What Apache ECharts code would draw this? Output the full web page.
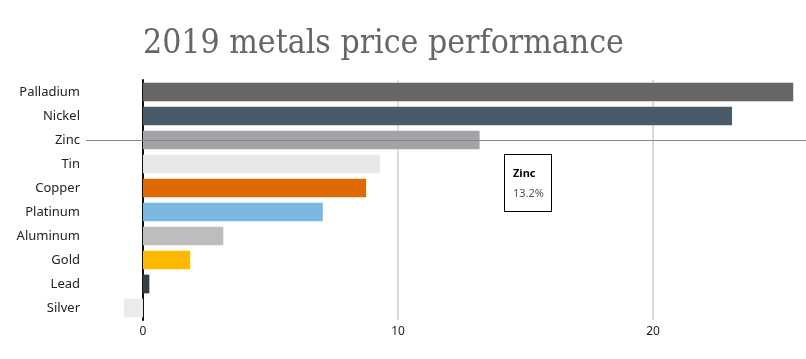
<!DOCTYPE html>
<html>
<head>
<meta charset="utf-8">
<script src="https://cdn.jsdelivr.net/npm/echarts@6/dist/echarts.min.js"></script>
<style>
html,body{margin:0;padding:0;background:#fff;}
#chart{width:806px;height:359px;}
</style>
</head>
<body>
<div id="chart"></div>
<script>
const titleText = '2019 metals price performance';
const categories = ['Palladium','Nickel','Zinc','Tin','Copper','Platinum','Aluminum','Gold','Lead','Silver'];
const values = [25.5, 23.1, 13.2, 9.3, 8.75, 7.05, 3.15, 1.85, 0.25, -0.75];
const barColors = ['#666666','#4a5a66','#939598','#e8e8e8','#dd6a00','#7ab8e0','#bdbdbd','#fdb900','#353f47','#ebebeb'];
const xTickValues = [0, 10, 20];
const tooltipIndex = 2;

const chart = echarts.init(document.getElementById('chart'), null, {renderer: 'canvas'});
chart.setOption({
  animation: false,
  backgroundColor: '#fff',
  title: {
    text: titleText,
    left: 138,
    top: 22,
    textStyle: {fontFamily: '"DejaVu Serif Condensed", "DejaVu Serif", serif', fontSize: 33.5, fontWeight: 'normal', color: '#666666'}
  },
  grid: {left: 86, right: 0, top: 80, bottom: 39, containLabel: false, outerBoundsMode: 'none'},
  tooltip: {
    trigger: 'axis',
    alwaysShowContent: true,
    transitionDuration: 0,
    position: [504, 154],
    backgroundColor: '#fff',
    borderColor: '#000',
    borderWidth: 1,
    padding: [8, 8, 8, 8],
    extraCssText: 'box-shadow:none;border-radius:0;',
    axisPointer: {type: 'line', lineStyle: {color: '#888', width: 1.2, type: 'solid'}},
    formatter: function (params) {
      const p = params[0];
      return '<div style="font-family:\'Noto Sans\',sans-serif;line-height:20px;width:30px;">'
        + '<div style="font-weight:bold;font-size:11px;color:#000;">' + p.name + '</div>'
        + '<div style="font-size:11px;color:#555;">' + p.value + '%</div></div>';
    }
  },
  xAxis: {
    type: 'value',
    min: -2.235,
    max: 26,
    axisLine: {show: false},
    axisTick: {show: false, customValues: xTickValues},
    axisLabel: {customValues: xTickValues, color: '#222', fontSize: 12, fontFamily: '"Noto Sans", sans-serif', margin: 6},
    splitLine: {show: true, lineStyle: {color: '#cccccc', width: 1.5}}
  },
  yAxis: {
    type: 'category',
    data: categories,
    inverse: true,
    axisLine: {show: true, onZero: true, lineStyle: {color: '#111', width: 2}},
    axisTick: {show: false},
    axisLabel: {color: '#222', fontSize: 13, fontFamily: '"Noto Sans", sans-serif', margin: 6}
  },
  series: [{
    type: 'bar',
    barCategoryGap: '22%',
    data: values.map((v, i) => ({value: v, itemStyle: {color: barColors[i]}}))
  }]
});
chart.dispatchAction({type: 'showTip', seriesIndex: 0, dataIndex: tooltipIndex});
</script>
</body>
</html>
